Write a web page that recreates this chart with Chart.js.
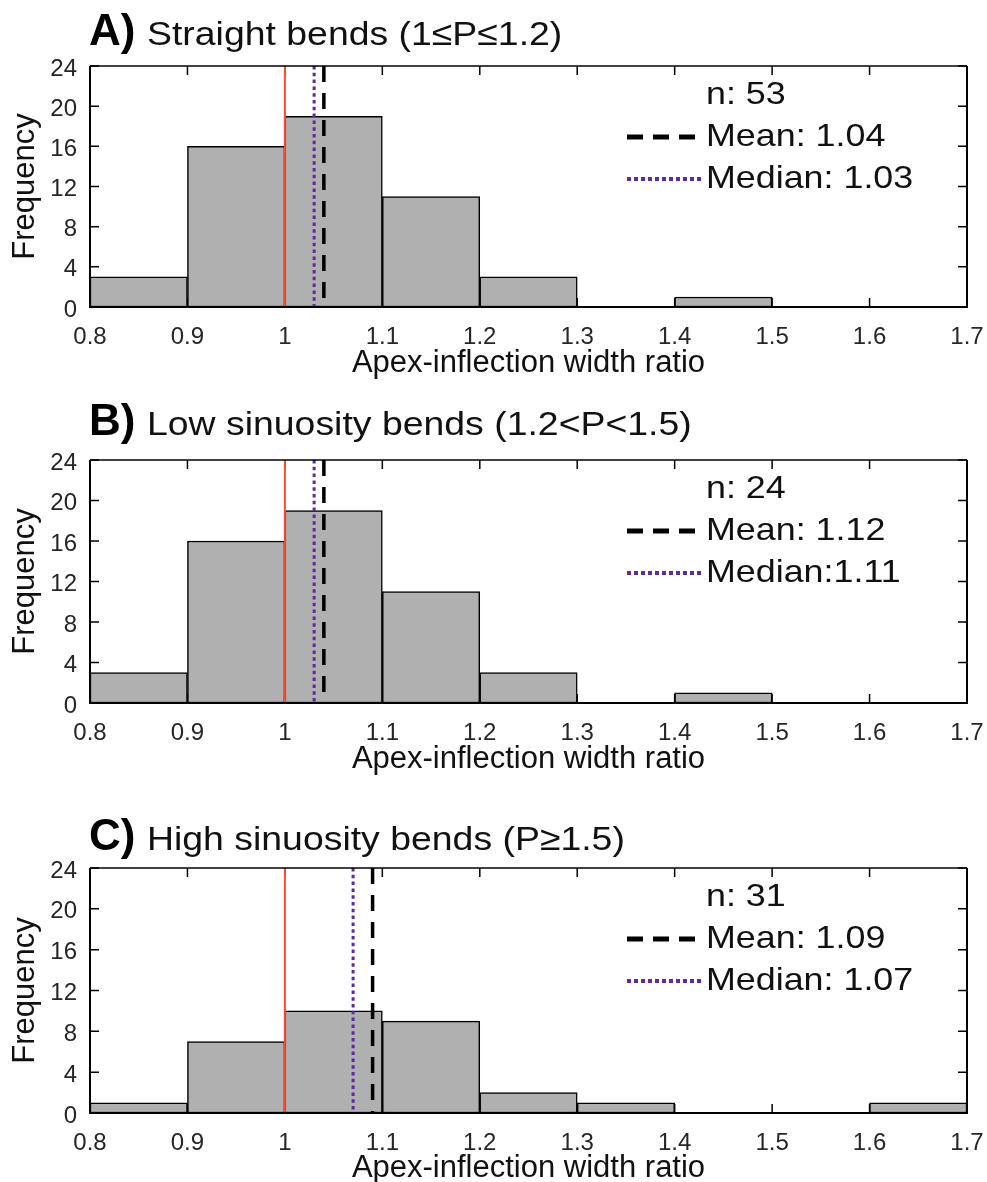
<!DOCTYPE html>
<html>
<head>
<meta charset="utf-8">
<script src="https://cdn.jsdelivr.net/npm/chart.js@4"></script>
<style>
  html, body { margin: 0; padding: 0; background: #fff; overflow: hidden; }
  body { width: 987px; height: 1182px; position: relative; }
  .panel { position: absolute; left: 0; width: 987px; }
</style>
</head>
<body>
<div class="panel" id="pA" style="top:0px;height:379px"><canvas id="grafA"></canvas></div>
<div class="panel" id="pB" style="top:380px;height:395px"><canvas id="grafB"></canvas></div>
<div class="panel" id="pC" style="top:770px;height:414px"><canvas id="grafC"></canvas></div>
<script>
// histogram bins (shared by the three panels)
const binEdges = [0.8, 0.9, 1.0, 1.1, 1.2, 1.3, 1.4, 1.5, 1.6, 1.7]
const countsA = [3, 16, 19, 11, 3, 0, 1, 0, 0]
const countsB = [3, 16, 19, 11, 3, 0, 1, 0, 0]
const countsC = [1, 7, 10, 9, 2, 1, 0, 0, 1]

// vertical reference lines
const refLine = 1.0
const meanLines = [1.04, 1.04, 1.09]
const medianLines = [1.03, 1.03, 1.07]

// texts
const panelLetters = ['A)', 'B)', 'C)']
const panelTitles = ['Straight bends (1≤P≤1.2)', 'Low sinuosity bends (1.2<P<1.5)', 'High sinuosity bends (P≥1.5)']
const nLabels = ['n: 53', 'n: 24', 'n: 31']
const meanLabels = ['Mean: 1.04', 'Mean: 1.12', 'Mean: 1.09']
const medianLabels = ['Median: 1.03', 'Median:1.11', 'Median: 1.07']

const xTickValues = [0.8, 0.9, 1.0, 1.1, 1.2, 1.3, 1.4, 1.5, 1.6, 1.7]
const xTickLabels = ['0.8', '0.9', '1', '1.1', '1.2', '1.3', '1.4', '1.5', '1.6', '1.7']
const yTickValues = [0, 4, 8, 12, 16, 20, 24]
const yTickLabels = ['0', '4', '8', '12', '16', '20', '24']
const xTitle = 'Apex-inflection width ratio'
const yTitle = 'Frequency'

const FONT = '"Liberation Sans", Arial, Helvetica, sans-serif'
Chart.defaults.font.family = FONT
Chart.defaults.color = '#262626'

const RED = '#ff4b2b'
const PURPLE = '#5a2ca0'

// panel layout (pixels inside each canvas)
const layouts = [
    { areaTop: 66, areaBottom: 307, height: 379, titleBase: 45 },
    { areaTop: 80, areaBottom: 323, height: 395, titleBase: 55 },
    { areaTop: 98, areaBottom: 343, height: 414, titleBase: 80 }
]

function stretchedText(ctx, text, x, y, font, sx) {
    ctx.save()
    ctx.font = font
    ctx.translate(x, y)
    ctx.scale(sx, 1)
    ctx.fillText(text, 0, 0)
    ctx.restore()
}

function noPadding(s) {
    s.paddingLeft = 0
    s.paddingRight = 0
    s.paddingTop = 0
    s.paddingBottom = 0
}

// inner ticks under the marks, box + title + stats legend on top
const matlabLook = {
    id: 'matlabLook',
    beforeDatasetsDraw(chart) {
        const ctx = chart.ctx
        const a = chart.chartArea
        const xs = chart.scales.x, ys = chart.scales.y
        ctx.save()
        ctx.strokeStyle = '#000'
        ctx.lineWidth = 1.5
        ctx.beginPath()
        xs.ticks.forEach(t => {
            const px = xs.getPixelForValue(t.value)
            ctx.moveTo(px, a.bottom); ctx.lineTo(px, a.bottom - 9)
            ctx.moveTo(px, a.top); ctx.lineTo(px, a.top + 9)
        })
        ys.ticks.forEach(t => {
            const py = ys.getPixelForValue(t.value)
            ctx.moveTo(a.left, py); ctx.lineTo(a.left + 9, py)
            ctx.moveTo(a.right, py); ctx.lineTo(a.right - 9, py)
        })
        ctx.stroke()
        ctx.restore()
    },
    afterDraw(chart, args, opts) {
        const ctx = chart.ctx
        const a = chart.chartArea
        ctx.save()
        ctx.strokeStyle = '#000'
        ctx.lineWidth = 2
        ctx.beginPath()
        ctx.moveTo(a.left, a.top); ctx.lineTo(a.left, a.bottom); ctx.lineTo(a.right, a.bottom); ctx.lineTo(a.right, a.top)
        ctx.stroke()
        ctx.lineWidth = 1.5
        ctx.beginPath()
        ctx.moveTo(a.left, a.top); ctx.lineTo(a.right, a.top)
        ctx.stroke()

        // title
        ctx.fillStyle = '#000'
        ctx.textBaseline = 'alphabetic'
        ctx.textAlign = 'left'
        stretchedText(ctx, opts.letter, 89, opts.titleBase, 'bold 44px ' + FONT, 1)
        ctx.fillStyle = '#111'
        stretchedText(ctx, opts.title, 147, opts.titleBase, '34px ' + FONT, 1.1)

        // legend
        const lx = 706, sx0 = 627
        ctx.textBaseline = 'middle'
        ctx.fillStyle = '#111'
        stretchedText(ctx, opts.n, lx, a.top + 29, '32px ' + FONT, 1.12)
        stretchedText(ctx, opts.mean, lx, a.top + 71, '32px ' + FONT, 1.12)
        stretchedText(ctx, opts.median, lx, a.top + 113, '32px ' + FONT, 1.12)

        ctx.lineCap = 'butt'
        ctx.strokeStyle = '#000'
        ctx.lineWidth = 5
        ctx.setLineDash([16, 10])
        ctx.beginPath(); ctx.moveTo(sx0, a.top + 71); ctx.lineTo(sx0 + 70, a.top + 71); ctx.stroke()
        ctx.strokeStyle = PURPLE
        ctx.lineWidth = 4
        ctx.setLineDash([4, 3])
        ctx.beginPath(); ctx.moveTo(sx0, a.top + 113); ctx.lineTo(sx0 + 76, a.top + 113); ctx.stroke()
        ctx.restore()
    }
}

function vline(x, color, width, dash, order) {
    return {
        type: 'line',
        data: [{ x: x, y: 24 }, { x: x, y: 0 }],
        borderColor: color,
        borderWidth: width,
        borderDash: dash,
        pointRadius: 0,
        fill: false,
        tension: 0,
        order: order
    }
}

function histograma(canvasId, i, counts) {
    const lay = layouts[i]
    const bars = counts.map((c, k) => ({ x: (binEdges[k] + binEdges[k + 1]) / 2, y: c }))
    new Chart(document.getElementById(canvasId), {
        type: 'bar',
        data: {
            datasets: [
                vline(refLine, RED, 2, [], 1),
                vline(medianLines[i], PURPLE, 3, [3.5, 3.3], 2),
                vline(meanLines[i], '#000', 3.5, [16, 11], 3),
                {
                    type: 'bar',
                    data: bars,
                    backgroundColor: '#b0b0b0',
                    borderColor: '#000',
                    borderWidth: 1.5,
                    borderSkipped: false,
                    barPercentage: 1,
                    categoryPercentage: 1,
                    order: 4
                }
            ]
        },
        options: {
            responsive: true,
            maintainAspectRatio: false,
            animation: false,
            events: [],
            layout: { padding: { top: lay.areaTop, right: 20, left: 0, bottom: 0 } },
            plugins: {
                legend: { display: false },
                tooltip: { enabled: false },
                matlabLook: {
                    letter: panelLetters[i],
                    title: panelTitles[i],
                    titleBase: lay.titleBase,
                    n: nLabels[i],
                    mean: meanLabels[i],
                    median: medianLabels[i]
                }
            },
            scales: {
                x: {
                    type: 'linear',
                    min: 0.8,
                    max: 1.7,
                    offset: false,
                    grid: { display: false, drawTicks: false },
                    border: { display: false },
                    afterBuildTicks: s => { s.ticks = xTickValues.map(v => ({ value: v })) },
                    afterFit: s => { s.height = lay.height - lay.areaBottom; noPadding(s) },
                    ticks: {
                        autoSkip: false,
                        maxRotation: 0,
                        padding: 16,
                        font: { size: 24 },
                        callback: (v, k) => xTickLabels[k]
                    },
                    title: {
                        display: true,
                        text: xTitle,
                        color: '#111',
                        font: { size: 31, lineHeight: 1 },
                        padding: { top: 0, bottom: 0.5 }
                    }
                },
                y: {
                    min: 0,
                    max: 24,
                    grid: { display: false, drawTicks: false },
                    border: { display: false },
                    afterBuildTicks: s => { s.ticks = yTickValues.map(v => ({ value: v })) },
                    afterFit: s => { s.width = 90; noPadding(s) },
                    ticks: {
                        padding: 13,
                        labelOffset: 3,
                        font: { size: 24 },
                        callback: (v, k) => yTickLabels[k]
                    },
                    title: {
                        display: true,
                        text: yTitle,
                        color: '#111',
                        font: { size: 31, lineHeight: 1 },
                        padding: { top: 9.5, bottom: 0 }
                    }
                }
            }
        },
        plugins: [matlabLook]
    })
}

histograma('grafA', 0, countsA)
histograma('grafB', 1, countsB)
histograma('grafC', 2, countsC)
</script>
</body>
</html>
